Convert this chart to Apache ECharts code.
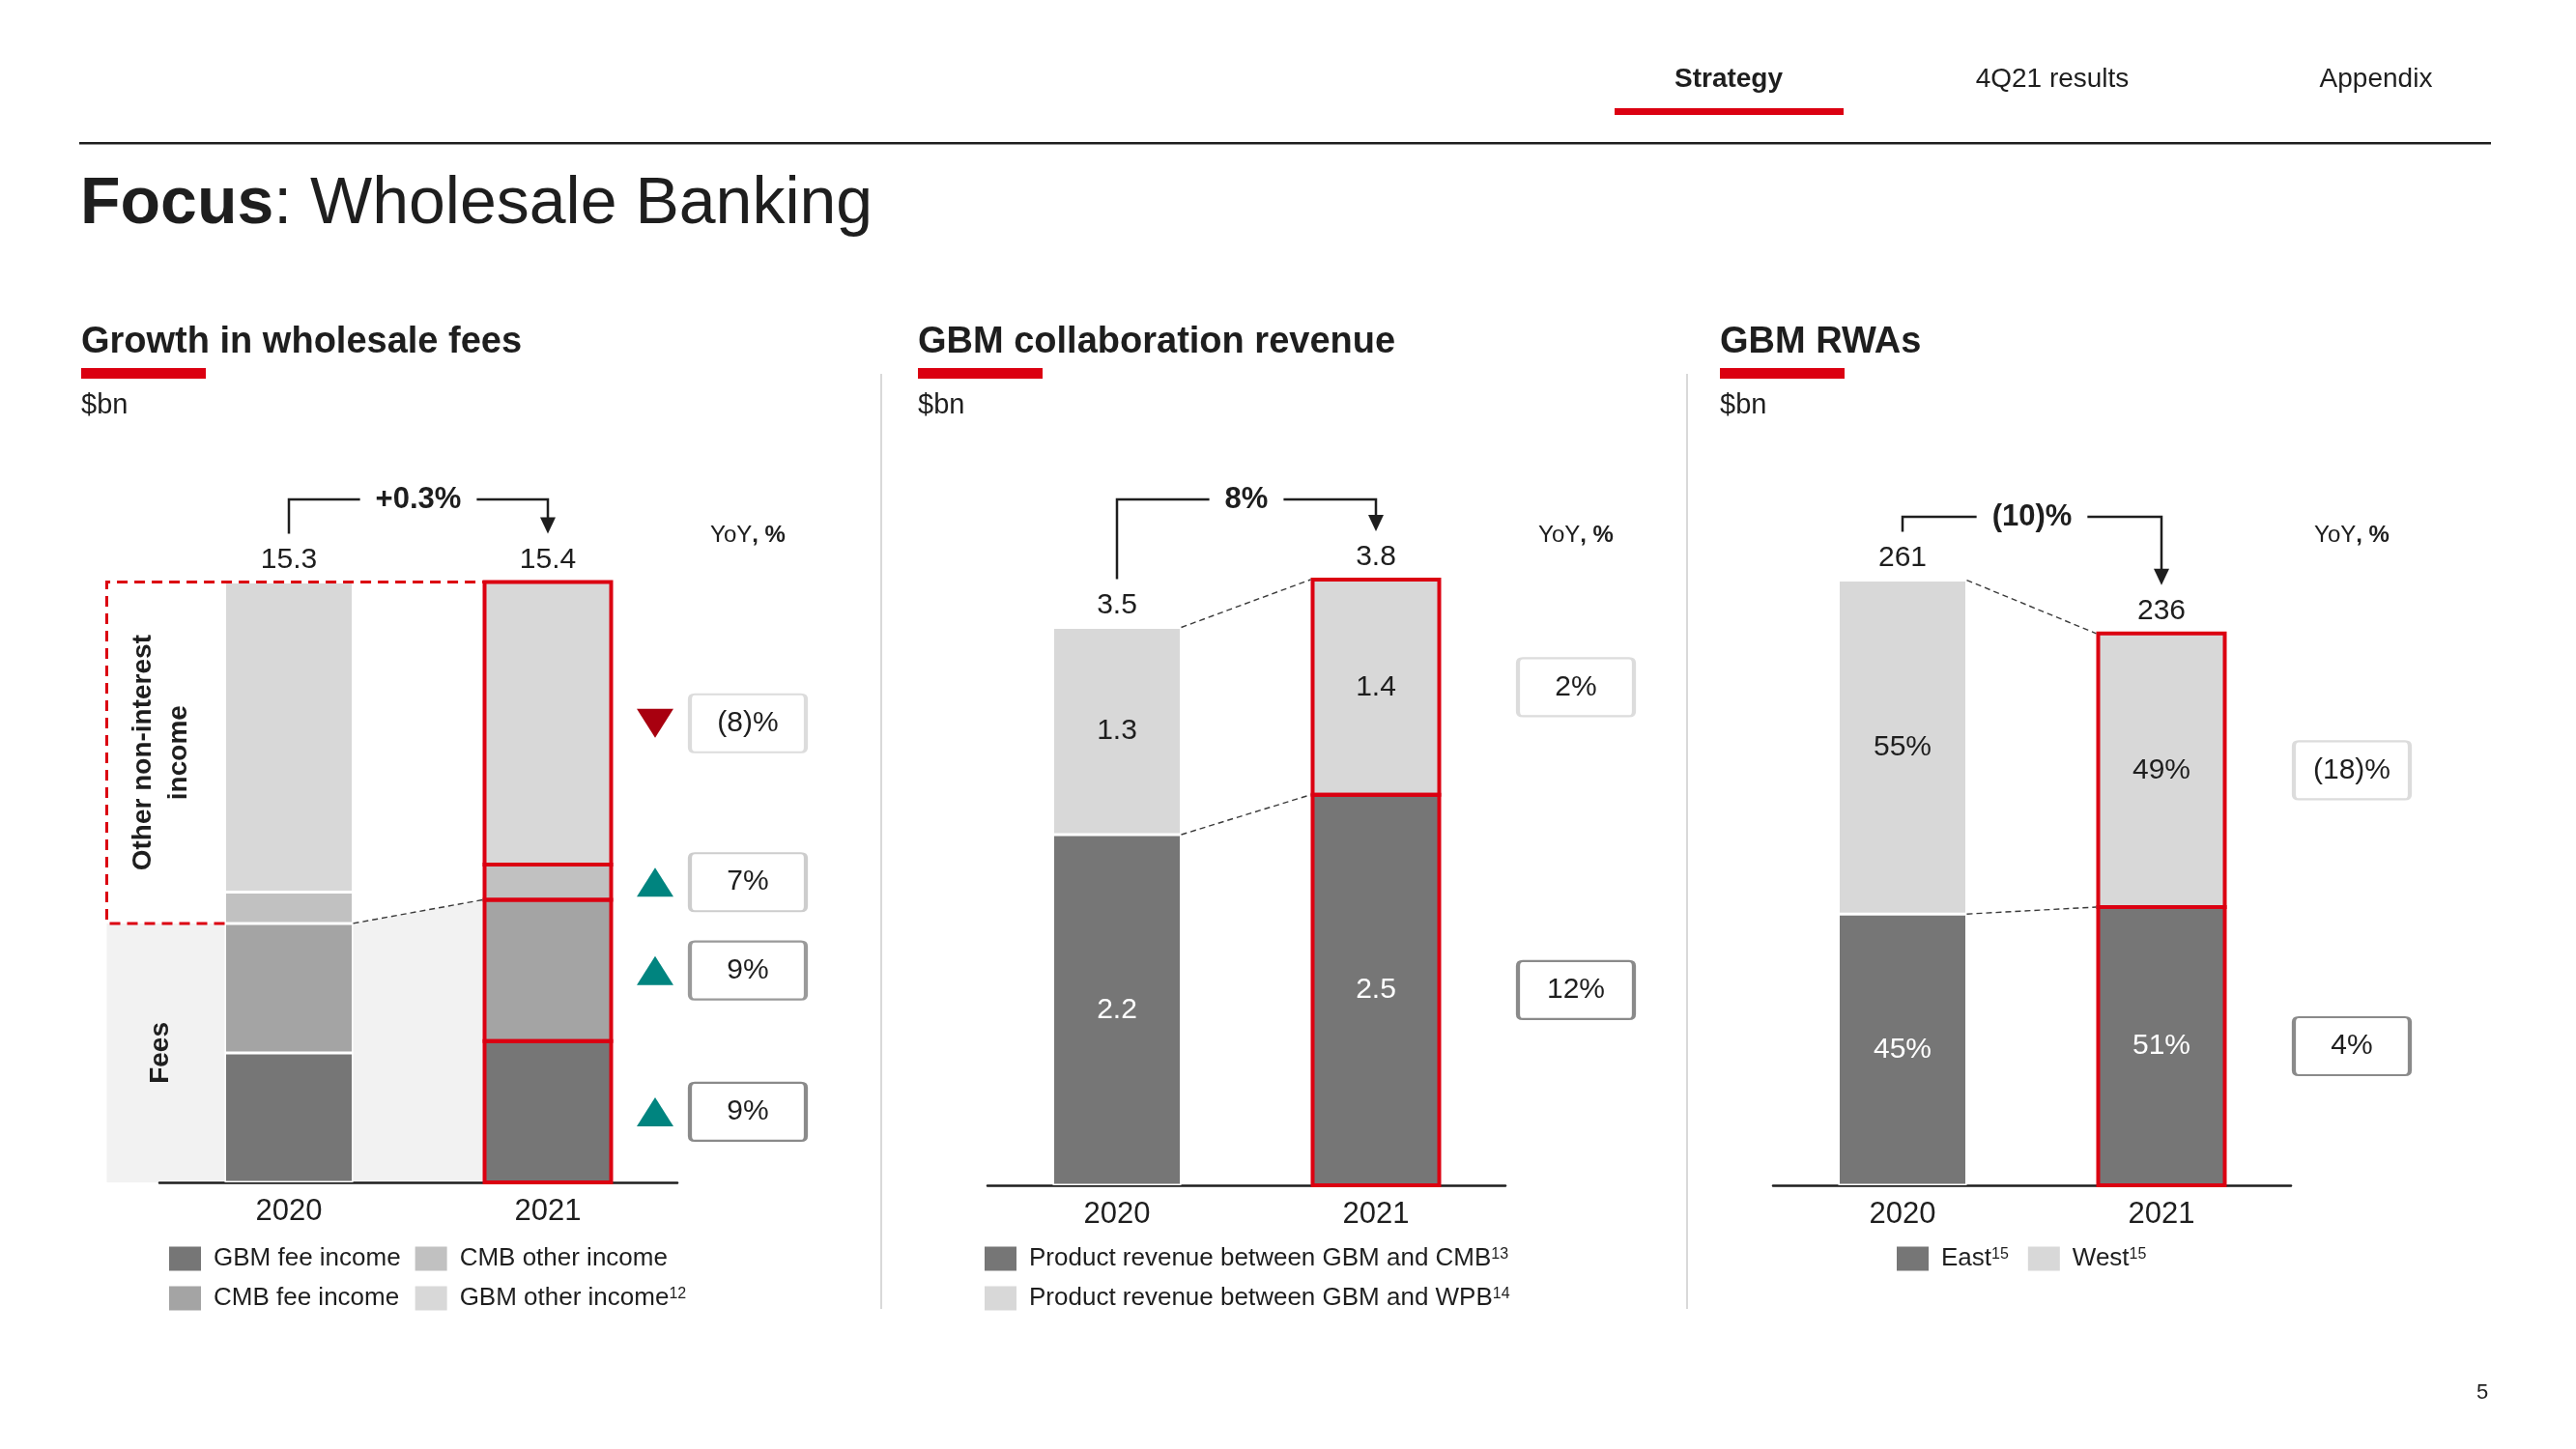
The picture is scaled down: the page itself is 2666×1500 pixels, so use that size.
<!DOCTYPE html>
<html>
<head>
<meta charset="utf-8">
<script src="https://cdn.jsdelivr.net/npm/echarts@6/dist/echarts.min.js"></script>
<style>html,body{margin:0;padding:0;background:#fff}#c{width:2666px;height:1500px}</style>
</head>
<body>
<div id="c"></div>
<script>
// ---------------- DATA ----------------
const years = ['2020', '2021'];

// Growth in wholesale fees, $bn (stack bottom -> top)
const gbmFeeIncome   = [3.3, 3.6];
const cmbFeeIncome   = [3.3, 3.6];
const cmbOtherIncome = [0.8, 0.9];
const gbmOtherIncome = [7.9, 7.2];
const feesTotals     = ['15.3', '15.4'];
const feesChange     = '+0.3%';
const feesYoY        = ['9%', '9%', '7%', '(8)%'];
const feesYoYDir     = ['up', 'up', 'up', 'down'];

// GBM collaboration revenue, $bn
const revGbmCmb       = [2.2, 2.45];
const revGbmWpb       = [1.3, 1.35];
const revGbmCmbLabels = ['2.2', '2.5'];
const revGbmWpbLabels = ['1.3', '1.4'];
const collabTotals    = ['3.5', '3.8'];
const collabChange    = '8%';
const collabYoY       = ['12%', '2%'];

// GBM RWAs, $bn
const rwaEast      = [117, 120];
const rwaWest      = [144, 118];
const rwaEastShare = ['45%', '51%'];
const rwaWestShare = ['55%', '49%'];
const rwaTotals    = ['261', '236'];
const rwaChange    = '(10)%';
const rwaYoY       = ['4%', '(18)%'];

// footnote superscripts for legend names
const footnotes = {
  'GBM other income': '12',
  'Product revenue between GBM and CMB': '13',
  'Product revenue between GBM and WPB': '14',
  'East': '15',
  'West': '15'
};

// ---------------- STYLE ----------------
const FONT = '"Liberation Sans", Arial, Helvetica, sans-serif';
const INK = '#1e1e1e';
const RED = '#db0011';
const TEAL = '#00847f';
const DOWNRED = '#a8000f';
const BAR_W = 133;
const BOX_PATH = 'path://M5,0 H115 Q120,0 120,5 V55 Q120,60 115,60 H5 Q0,60 0,55 V5 Q0,0 5,0 Z';

const feeNames  = ['GBM fee income', 'CMB fee income', 'CMB other income', 'GBM other income'];
const feeStack  = [gbmFeeIncome, cmbFeeIncome, cmbOtherIncome, gbmOtherIncome];
const feeColors = ['#767676', '#a4a4a4', '#c1c1c1', '#d8d8d8'];
const feeBoxBorders = ['#8a8a8a', '#9a9a9a', '#cdcdcd', '#dcdcdc'];

const colNames  = ['Product revenue between GBM and CMB', 'Product revenue between GBM and WPB'];
const colStack  = [revGbmCmb, revGbmWpb];
const colColors = ['#767676', '#d8d8d8'];
const colBoxBorders = ['#8a8a8a', '#dcdcdc'];

const rwaNames  = ['East', 'West'];
const rwaStack  = [rwaEast, rwaWest];
const rwaColors = ['#767676', '#d8d8d8'];
const rwaBoxBorders = ['#8a8a8a', '#dcdcdc'];

const sumTo = (arrs, k, i) => arrs.slice(0, k).reduce((s, a) => s + a[i], 0);

function yoyMarks(stack, k, text, border, boxOff, dir) {
  const mid = sumTo(stack, k, 1) + stack[k][1] / 2;
  const data = [{
    coord: [1, mid], symbol: BOX_PATH, symbolSize: [120, 60], symbolOffset: [boxOff, 0],
    itemStyle: { color: '#fff', borderColor: border, borderWidth: 3 },
    label: { show: true, position: 'inside', formatter: text, color: INK, fontSize: 30, fontFamily: FONT }
  }];
  if (dir) {
    data.push({
      coord: [1, mid], symbol: 'triangle', symbolSize: [38, 30], symbolOffset: [111, 0],
      symbolRotate: dir === 'up' ? 0 : 180,
      itemStyle: { color: dir === 'up' ? TEAL : DOWNRED, borderWidth: 0 },
      label: { show: false }
    });
  }
  return { silent: true, animation: false, data };
}

function segSeries(name, values, gi, stack, color, label, marks) {
  return {
    name, type: 'bar', stack, xAxisIndex: gi, yAxisIndex: gi, barWidth: BAR_W,
    itemStyle: { color },
    data: values.map((v, i) => ({
      value: v,
      itemStyle: i === 0 ? { borderColor: '#fff', borderWidth: 1.5 } : { borderWidth: 0 }
    })),
    label: label || { show: false },
    markPoint: marks,
    emphasis: { disabled: true },
    silent: true
  };
}

function totalSeries(gi, stack, labels) {
  return {
    name: 'Total' + gi, type: 'bar', stack, xAxisIndex: gi, yAxisIndex: gi, barWidth: BAR_W,
    data: labels.map(() => 0),
    itemStyle: { color: 'rgba(0,0,0,0)', borderWidth: 0 },
    label: { show: true, position: 'top', distance: 8, formatter: p => labels[p.dataIndex],
             fontSize: 30, lineHeight: 30, color: INK, fontFamily: FONT },
    emphasis: { disabled: true }, silent: true
  };
}

function inLabel(labels, color) {
  return { show: true, position: 'inside', formatter: p => labels[p.dataIndex],
           fontSize: 30, color, fontFamily: FONT };
}

const series = [];
feeNames.forEach((n, k) => {
  series.push(segSeries(n, feeStack[k], 0, 'fees', feeColors[k], null,
    yoyMarks(feeStack, k, feesYoY[k], feeBoxBorders[k], 207, feesYoYDir[k])));
});
series.push(totalSeries(0, 'fees', feesTotals));

series.push(segSeries(colNames[0], revGbmCmb, 1, 'col', colColors[0], inLabel(revGbmCmbLabels, '#fff'),
  yoyMarks(colStack, 0, collabYoY[0], colBoxBorders[0], 207, null)));
series.push(segSeries(colNames[1], revGbmWpb, 1, 'col', colColors[1], inLabel(revGbmWpbLabels, INK),
  yoyMarks(colStack, 1, collabYoY[1], colBoxBorders[1], 207, null)));
series.push(totalSeries(1, 'col', collabTotals));

series.push(segSeries(rwaNames[0], rwaEast, 2, 'rwa', rwaColors[0], inLabel(rwaEastShare, '#fff'),
  yoyMarks(rwaStack, 0, rwaYoY[0], rwaBoxBorders[0], 197, null)));
series.push(segSeries(rwaNames[1], rwaWest, 2, 'rwa', rwaColors[1], inLabel(rwaWestShare, INK),
  yoyMarks(rwaStack, 1, rwaYoY[1], rwaBoxBorders[1], 197, null)));
series.push(totalSeries(2, 'rwa', rwaTotals));

const grids = [
  { left: 165,  width: 536, top: 574, height: 650 },
  { left: 1022, width: 536, top: 567, height: 660 },
  { left: 1835, width: 536, top: 555, height: 672 }
];
const yMax = [16, 4, 280];

const xAxes = grids.map((_, i) => ({
  type: 'category', gridIndex: i, data: years,
  axisLine: { show: true, lineStyle: { color: INK, width: 2.5 } },
  axisTick: { show: false },
  axisLabel: { fontSize: 31, color: INK, fontFamily: FONT, margin: 15 }
}));
const yAxes = grids.map((_, i) => ({ type: 'value', gridIndex: i, min: 0, max: yMax[i], show: false }));

const legendText = {
  fontSize: 26, color: INK, fontFamily: FONT,
  rich: {
    t: { fontSize: 26, color: INK, fontFamily: FONT, lineHeight: 25, padding: [0, 0, 0, 8] },
    s: { fontSize: 16, color: INK, fontFamily: FONT, lineHeight: 14, verticalAlign: 'top' }
  }
};
const legendFmt = name => footnotes[name] ? '{t|' + name + '}{s|' + footnotes[name] + '}' : '{t|' + name + '}';
const legendBase = { icon: 'rect', itemWidth: 33, itemHeight: 25, padding: 0, selectedMode: false,
                     textStyle: legendText, formatter: legendFmt };

const legends = [
  Object.assign({}, legendBase, { orient: 'vertical', left: 175, top: 1290, height: 80, itemGap: 15,
    data: ['GBM fee income', 'CMB fee income', 'CMB other income', 'GBM other income'] }),
  Object.assign({}, legendBase, { orient: 'vertical', left: 1019, top: 1290, itemGap: 15,
    data: colNames }),
  Object.assign({}, legendBase, { orient: 'horizontal', left: 1963, top: 1290, itemGap: 20,
    data: rwaNames })
];

const chart = echarts.init(document.getElementById('c'), null, { renderer: 'canvas', width: 2666, height: 1500 });
chart.setOption({
  animation: false,
  backgroundColor: '#fff',
  textStyle: { fontFamily: FONT },
  grid: grids, xAxis: xAxes, yAxis: yAxes, legend: legends, series
});

// ---------------- ANNOTATIONS (positioned from data) ----------------
const P = (gi, xi, v) => chart.convertToPixel({ gridIndex: gi }, [xi, v]);
const HW = BAR_W / 2;
const g = [];

function geom(gi, stack) {
  const n = stack.length;
  return {
    gi, n,
    x0: P(gi, 0, 0)[0], x1: P(gi, 1, 0)[0], base: P(gi, 0, 0)[1],
    top0: P(gi, 0, sumTo(stack, n, 0))[1], top1: P(gi, 1, sumTo(stack, n, 1))[1],
    lvl: (k, i) => P(gi, i, sumTo(stack, k, i))[1]
  };
}
// red outline around every 2021 segment
function outline2021(G) {
  for (let k = 0; k < G.n; k++) {
    const yB = G.lvl(k, 1), yT = G.lvl(k + 1, 1);
    g.push({ type: 'rect', z: 9, silent: true,
             shape: { x: G.x1 - HW + 1, y: yT, width: BAR_W - 2, height: yB - yT },
             style: { fill: null, stroke: RED, lineWidth: 4 } });
  }
}
function dashed(x1, y1, x2, y2) {
  g.push({ type: 'line', z: 10, silent: true, shape: { x1, y1, x2, y2 },
           style: { stroke: '#3a3a3a', lineWidth: 1.4, lineDash: [6, 4] } });
}
function bracket(G, yB, text) {
  const yL = G.top0 - 23 - 27, tip = G.top1 - 23 - 27;
  g.push({ type: 'polyline', z: 10, silent: true,
           shape: { points: [[G.x0, yL], [G.x0, yB], [G.x1, yB], [G.x1, tip - 14]] },
           style: { stroke: INK, lineWidth: 2.5, fill: null } });
  g.push({ type: 'polygon', z: 10, silent: true,
           shape: { points: [[G.x1 - 8, tip - 17], [G.x1 + 8, tip - 17], [G.x1, tip]] },
           style: { fill: INK } });
  g.push({ type: 'text', z: 11, silent: true,
           style: { text, x: (G.x0 + G.x1) / 2, y: yB, align: 'center', verticalAlign: 'middle',
                    fontSize: 31, fontWeight: 'bold', fontFamily: FONT, fill: INK,
                    backgroundColor: '#fff', padding: [2, 16] } });
}
function yoyHead(x, y) {
  g.push({ type: 'text', z: 11, silent: true,
           style: { text: '{r|YoY}{b|, %}', x, y, align: 'center', verticalAlign: 'middle',
                    rich: { r: { fontSize: 24, fontFamily: FONT, fill: INK },
                            b: { fontSize: 24, fontFamily: FONT, fontWeight: 'bold', fill: INK } } } });
}

// Chart 1
const G1 = geom(0, feeStack);
const fee0 = G1.lvl(2, 0), fee1 = G1.lvl(2, 1);
const boxL = G1.x0 - HW - 122;
g.push({ type: 'polygon', z: 0, silent: true,
         shape: { points: [[boxL, fee0], [G1.x0 + HW, fee0], [G1.x1 - HW - 1, fee1], [G1.x1 - HW - 1, G1.base], [boxL, G1.base]] },
         style: { fill: '#f2f2f2' } });
g.push({ type: 'polyline', z: 10, silent: true,
         shape: { points: [[G1.x0 - HW, fee0], [boxL, fee0], [boxL, G1.top0], [G1.x1 + HW, G1.top0]] },
         style: { stroke: RED, lineWidth: 3, lineDash: [11, 7], fill: null } });
dashed(G1.x0 + HW, fee0, G1.x1 - HW - 1, fee1);
outline2021(G1);
g.push({ type: 'text', z: 11, silent: true, rotation: Math.PI / 2,
         x: boxL + 56, y: (G1.top0 + fee0) / 2,
         style: { text: 'Other non-interest\nincome', x: 0, y: 0, align: 'center', verticalAlign: 'middle',
                  fontSize: 28, lineHeight: 37, fontWeight: 'bold', fontFamily: FONT, fill: INK } });
g.push({ type: 'text', z: 11, silent: true, rotation: Math.PI / 2,
         x: boxL + 56, y: (fee0 + G1.base) / 2,
         style: { text: 'Fees', x: 0, y: 0, align: 'center', verticalAlign: 'middle',
                  fontSize: 28, fontWeight: 'bold', fontFamily: FONT, fill: INK } });
bracket(G1, 517, feesChange);
yoyHead(G1.x1 + 207, 554);

// Chart 2
const G2 = geom(1, colStack);
dashed(G2.x0 + HW, G2.top0, G2.x1 - HW - 1, G2.top1);
dashed(G2.x0 + HW, G2.lvl(1, 0), G2.x1 - HW - 1, G2.lvl(1, 1));
outline2021(G2);
bracket(G2, 517, collabChange);
yoyHead(G2.x1 + 207, 554);

// Chart 3
const G3 = geom(2, rwaStack);
dashed(G3.x0 + HW, G3.top0, G3.x1 - HW - 1, G3.top1);
dashed(G3.x0 + HW, G3.lvl(1, 0), G3.x1 - HW - 1, G3.lvl(1, 1));
outline2021(G3);
bracket(G3, 535, rwaChange);
yoyHead(G3.x1 + 197, 554);

// ---------------- PAGE FURNITURE ----------------
function txt(text, x, y, size, weight, align, extra) {
  g.push({ type: 'text', z: 11, silent: true,
           style: Object.assign({ text, x, y, align: align || 'left', verticalAlign: 'middle',
                                  fontSize: size, fontWeight: weight || 'normal', fontFamily: FONT, fill: INK }, extra || {}) });
}
function rect(x, y, w, h, fill) {
  g.push({ type: 'rect', z: 11, silent: true, shape: { x, y, width: w, height: h }, style: { fill } });
}
txt('Strategy', 1789, 82, 28, 'bold', 'center');
txt('4Q21 results', 2124, 82, 28, 'normal', 'center');
txt('Appendix', 2459, 82, 28, 'normal', 'center');
rect(1671, 112, 237, 7, RED);
rect(82, 147, 2496, 2.5, INK);
g.push({ type: 'text', z: 11, silent: true,
         style: { text: '{b|Focus}{r|: Wholesale Banking}', x: 83, y: 212, align: 'left', verticalAlign: 'middle',
                  rich: { b: { fontSize: 68, fontWeight: 'bold', fontFamily: FONT, fill: INK },
                          r: { fontSize: 68, fontFamily: FONT, fill: INK } } } });
const sections = [['Growth in wholesale fees', 84], ['GBM collaboration revenue', 950], ['GBM RWAs', 1780]];
sections.forEach(([t, x]) => {
  txt(t, x, 355, 38, 'bold');
  rect(x, 381, 129, 11, RED);
  txt('$bn', x, 420, 29);
});
[912, 1746].forEach(x => g.push({ type: 'line', z: 1, silent: true,
  shape: { x1: x, y1: 387, x2: x, y2: 1355 }, style: { stroke: '#d9d9d9', lineWidth: 2 } }));
txt('5', 2569, 1442, 22, 'normal', 'center');

chart.setOption({ graphic: { elements: g } });
</script>
</body>
</html>
